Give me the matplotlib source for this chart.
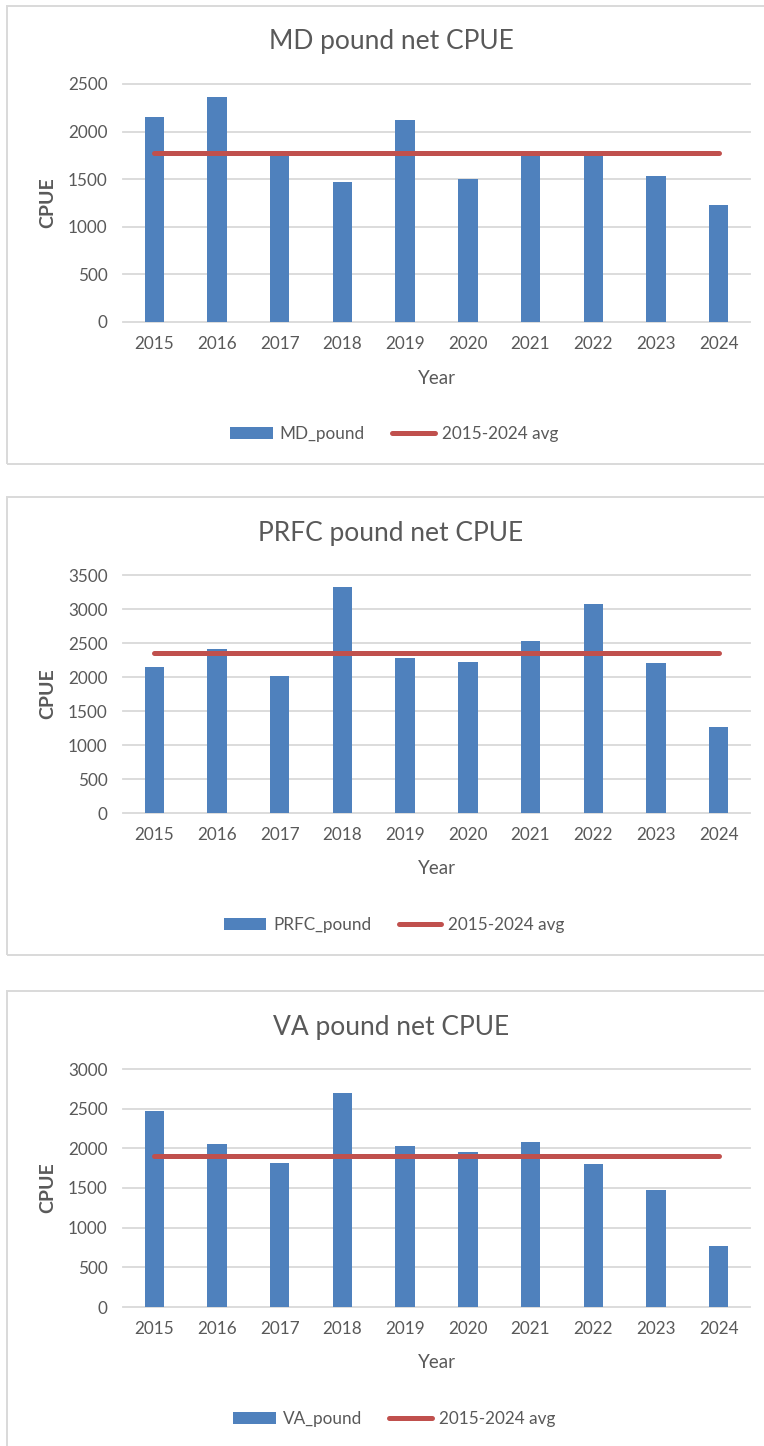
import numpy as np
import matplotlib
matplotlib.use('Agg')
import matplotlib.pyplot as plt
from matplotlib.patches import Rectangle, Patch
from matplotlib.lines import Line2D

plt.rcParams['font.family'] = ['Lato', 'DejaVu Sans']

years = [2015, 2016, 2017, 2018, 2019, 2020, 2021, 2022, 2023, 2024]
md_pound = [2150, 2360, 1765, 1475, 2124, 1506, 1770, 1770, 1531, 1229]
prfc_pound = [2150, 2410, 2011, 3328, 2286, 2227, 2532, 3073, 2212, 1263]
va_pound = [2467, 2056, 1813, 2698, 2031, 1956, 2081, 1800, 1469, 772]
md_avg = 1773
prfc_avg = 2360
va_avg = 1909

titles = ['MD pound net CPUE', 'PRFC pound net CPUE', 'VA pound net CPUE']
series_names = ['MD_pound', 'PRFC_pound', 'VA_pound']
avg_name = '2015-2024 avg'
y_max = [2500, 3500, 3000]

BLUE = '#4F81BD'
RED = '#C0504D'
GRID = '#D9D9D9'
TXT = '#595959'

W, H = 764, 1446
fig = plt.figure(figsize=(W / 100, H / 100), dpi=100)

panel_tops = [6, 497, 991]


def fx(px):
    return px / W


def fy(py):
    return 1 - py / H


def panel(i, values, avg):
    top = panel_tops[i]
    # grey frame round each chart
    fig.patches.append(Rectangle((fx(7), fy(top + 458)), fx(780 - 7), 458 / H,
                                 transform=fig.transFigure, fill=False,
                                 edgecolor=GRID, linewidth=1.4))
    ax = fig.add_axes([fx(123), fy(top + 316), fx(627), (316 - 78) / H])
    x = np.arange(len(years))
    ax.bar(x, values, width=0.31, color=BLUE, zorder=2)
    ax.plot(x, [avg] * len(years), color=RED, linewidth=3.6,
            solid_capstyle='round', zorder=3)
    ax.set_xlim(-0.5, len(years) - 0.5)
    ax.set_ylim(0, y_max[i])
    ax.set_yticks(np.arange(0, y_max[i] + 1, 500))
    ax.set_xticks(x)
    ax.set_xticklabels([str(y) for y in years])
    for s in ax.spines.values():
        s.set_visible(False)
    ax.yaxis.grid(True, color=GRID, linewidth=1.3)
    for gl in ax.get_ygridlines():
        gl.set_clip_on(False)
    ax.set_axisbelow(True)
    ax.tick_params(axis='both', length=0, labelsize=12.3, colors=TXT)
    ax.tick_params(axis='y', pad=11)
    ax.tick_params(axis='x', pad=10)
    ax.set_xlabel('Year', fontsize=13.5, color=TXT, va='center')
    ax.xaxis.set_label_coords(0.5, -(378 - 322) / 238)
    ax.set_ylabel('CPUE', fontsize=14, color=TXT, fontweight='bold', va='center')
    ax.yaxis.set_label_coords((48 - 123) / 627, 0.5)
    fig.text(fx(391), fy(top + 36), titles[i], fontsize=19, color=TXT,
             ha='center', va='center')
    handles = [Patch(facecolor=BLUE), Line2D([], [], color=RED, linewidth=3.6,
                                             solid_capstyle='round')]
    fig.legend(handles, [series_names[i], avg_name], loc='center',
               bbox_to_anchor=(fx(394), fy(top + 428)), ncol=2, frameon=False,
               fontsize=12.3, labelcolor=TXT, handlelength=2.5,
               handletextpad=0.4, columnspacing=1.6)


panel(0, md_pound, md_avg)
panel(1, prfc_pound, prfc_avg)
panel(2, va_pound, va_avg)

plt.savefig('out.png', dpi=100)
